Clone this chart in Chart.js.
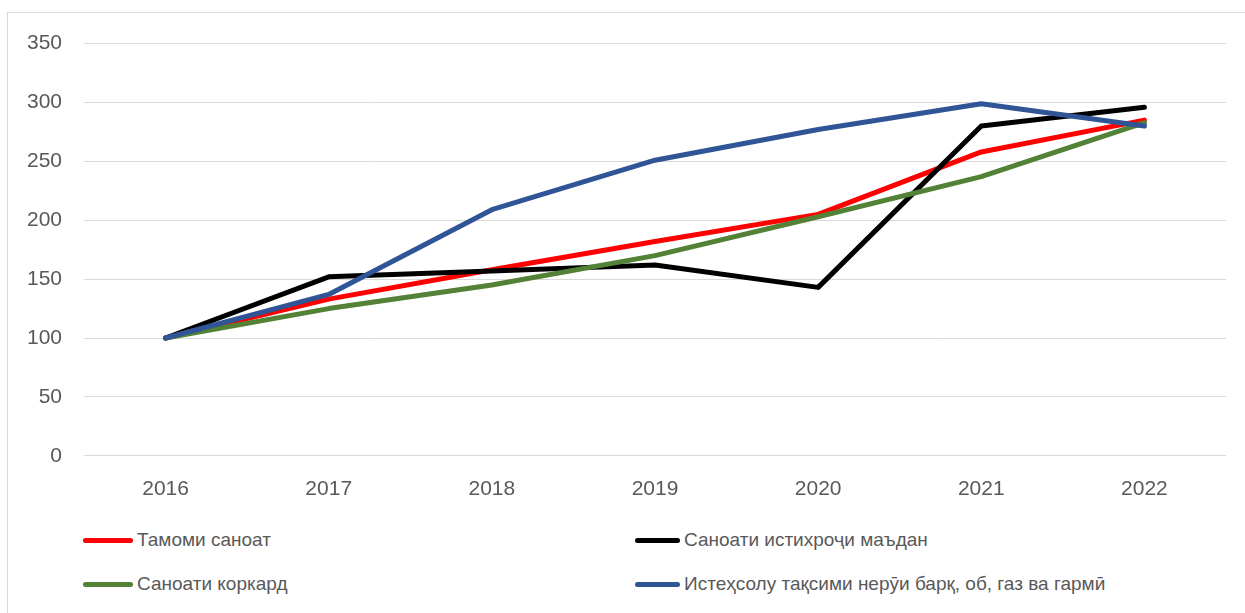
<!DOCTYPE html>
<html>
<head>
<meta charset="utf-8">
<script src="https://cdn.jsdelivr.net/npm/chart.js@4/dist/chart.umd.min.js"></script>
<style>
  body { margin: 0; background: #fff; width: 1245px; height: 613px; overflow: hidden; position: relative; font-family: "Liberation Sans", Arial, sans-serif; }
  #frame { position: absolute; left: 7px; top: 12px; width: 1245px; height: 610px; border: 1px solid #d9d9d9; box-sizing: border-box; }
  #chartVis { position: absolute; left: 8px; top: 9px; }
  .leg { position: absolute; height: 24px; display: flex; align-items: center; font-size: 19px; color: #595959; white-space: nowrap; }
  .leg span.ln { display: inline-block; height: 5px; border-radius: 3px; margin-right: 4px; }
</style>
</head>
<body>
<div id="frame"></div>
<canvas id="chartVis"></canvas>
<div id="legend"></div>
<script>
var years = ["2016", "2017", "2018", "2019", "2020", "2021", "2022"];

var seriesNames = [
    "Тамоми саноат",
    "Саноати истихроҷи маъдан",
    "Саноати коркард",
    "Истеҳсолу тақсими нерӯи барқ, об, газ ва гармӣ"
];
var seriesColors = ["#ff0000", "#000000", "#538135", "#2f5597"];

var totalIndustry = [100, 133, 158, 182, 205, 258, 285];
var mining = [100, 152, 157, 162, 143, 280, 296];
var manufacturing = [100, 125, 145, 170, 203, 237, 283];
var energy = [100, 137, 209, 251, 277, 299, 280];

var allSeries = [totalIndustry, mining, manufacturing, energy];

var yTicksMax = 350;
var yTicksStep = 50;

var ctx = document.getElementById("chartVis").getContext("2d");
ctx.canvas.width = 1237;
ctx.canvas.height = 519;

var datasets = [];
for (var i = 0; i < allSeries.length; i++) {
    datasets.push({
        label: seriesNames[i],
        data: allSeries[i],
        borderColor: seriesColors[i],
        backgroundColor: seriesColors[i],
        borderWidth: 5,
        borderCapStyle: 'round',
        borderJoinStyle: 'round',
        pointRadius: 0,
        tension: 0,
        fill: false,
        order: allSeries.length - i
    });
}

var myLineChart = new Chart(ctx, {
    type: 'line',
    data: {
        labels: years,
        datasets: datasets
    },
    options: {
        responsive: false,
        animation: false,
        layout: {
            padding: { top: 25, right: 19, bottom: 13, left: 0 }
        },
        plugins: {
            legend: { display: false },
            tooltip: { enabled: false }
        },
        scales: {
            x: {
                offset: true,
                grid: { display: false },
                border: { display: false },
                ticks: {
                    color: "#595959",
                    font: { family: "Liberation Sans", size: 21 },
                    padding: 13,
                    maxRotation: 0
                }
            },
            y: {
                min: 0,
                max: yTicksMax,
                afterFit: function(scale) { scale.width = 76; },
                grid: { color: "#d9d9d9", lineWidth: 1, drawTicks: false },
                border: { display: false },
                ticks: {
                    stepSize: yTicksStep,
                    color: "#595959",
                    font: { family: "Liberation Sans", size: 21 },
                    padding: 22
                }
            }
        }
    }
});

// legend in two columns, like the original
var legendPos = [[83, 528, 50], [635, 528, 45], [83, 572, 50], [635, 572, 45]];
var legend = document.getElementById("legend");
for (var j = 0; j < seriesNames.length; j++) {
    var item = document.createElement("div");
    item.className = "leg";
    item.style.left = legendPos[j][0] + "px";
    item.style.top = legendPos[j][1] + "px";
    item.innerHTML = '<span class="ln" style="width:' + legendPos[j][2] + 'px;background:' + seriesColors[j] + '"></span>' + seriesNames[j];
    legend.appendChild(item);
}
</script>
</body>
</html>
